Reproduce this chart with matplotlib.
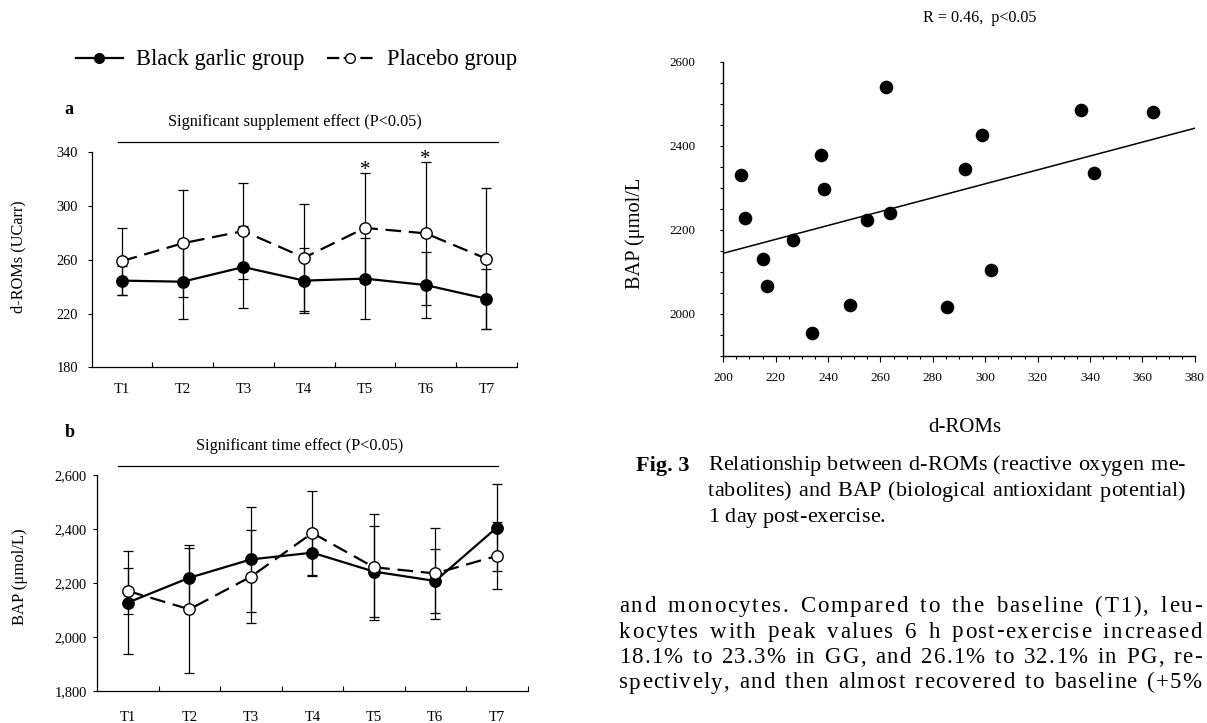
import numpy as np
import matplotlib
matplotlib.use('Agg')
import matplotlib.pyplot as plt
from matplotlib.lines import Line2D
from matplotlib.ticker import FixedLocator, FixedFormatter, NullFormatter, MultipleLocator, FuncFormatter
from matplotlib.font_manager import FontProperties, findfont
from matplotlib.ft2font import FT2Font
try:
    from matplotlib.ft2font import LoadFlags
    NOHINT = LoadFlags.NO_HINTING
except ImportError:
    from matplotlib.ft2font import LOAD_NO_HINTING as NOHINT

plt.rcParams['font.family'] = ['Liberation Serif', 'DejaVu Serif']

# ---------------- data ----------------
timepoints = ['T1', 'T2', 'T3', 'T4', 'T5', 'T6', 'T7']

droms_black = [244.5, 243.7, 254.6, 244.5, 246.0, 241.2, 231.0]
droms_black_sd = [11.0, 28.0, 30.7, 24.3, 30.3, 24.5, 22.5]
droms_placebo = [259.0, 272.3, 281.4, 261.6, 283.7, 279.7, 260.8]
droms_placebo_sd = [25.0, 40.0, 36.0, 40.0, 41.0, 53.0, 52.4]
droms_significant = ['T5', 'T6']

bap_black = [2128, 2220, 2288, 2313, 2243, 2208, 2406]
bap_black_sd = [190, 111, 196, 85, 170, 118, 160]
bap_placebo = [2171, 2103, 2224, 2386, 2259, 2236, 2301]
bap_placebo_sd = [86, 238, 172, 156, 196, 168, 124]

scatter_droms = [206.8, 208.3, 215.0, 216.5, 226.6, 234.0, 237.3, 238.3, 248.3, 255.0,
                 262.1, 263.5, 285.3, 292.2, 298.9, 302.1, 336.5, 341.5, 364.1]
scatter_bap = [2331, 2228, 2130, 2067, 2175, 1955.6, 2378, 2297.6, 2020.6, 2224.6,
               2539, 2239.7, 2017.5, 2345, 2426, 2105, 2484, 2335, 2481]

legend_labels = ['Black garlic group', 'Placebo group']
panel_a_title = 'Significant supplement effect (P<0.05)'
panel_b_title = 'Significant time effect (P<0.05)'
scatter_title = 'R = 0.46,  p<0.05'
caption_head = 'Fig. 3'
caption_lines = ['Relationship between d-ROMs (reactive oxygen me-',
                 'tabolites) and BAP (biological antioxidant potential)',
                 '1 day post-exercise.']
body_lines = ['and monocytes. Compared to the baseline (T1), leu-',
              'kocytes with peak values 6 h post-exercise increased',
              '18.1% to 23.3% in GG, and 26.1% to 32.1% in PG, re-',
              'spectively, and then almost recovered to baseline (+5%']

# ---------------- figure ----------------
W, H = 1207, 723
fig = plt.figure(figsize=(W / 100, H / 100), dpi=100)


def rect(x0, y0, x1, y1):
    return [x0 / W, 1 - y1 / H, (x1 - x0) / W, (y1 - y0) / H]


def fx(x):
    return x / W


def fy(y):
    return 1 - y / H


DASH = (0, (7, 3.5))


def line_panel(r, black, bsd, plac, psd, ylim, ystep, fmt, ylab_pad, xlab_pad):
    ax = fig.add_axes(r)
    x = np.arange(len(timepoints)) + 0.5
    ekw = dict(fmt='none', ecolor='black', elinewidth=0.9, capsize=3.8, capthick=0.9)
    ax.errorbar(x, black, yerr=bsd, zorder=2, **ekw)
    ax.errorbar(x, plac, yerr=psd, zorder=2, **ekw)
    ax.plot(x, black, color='black', lw=1.6, marker='o', ms=8.2, mfc='black', mec='black', zorder=3)
    ax.plot(x, plac, color='black', lw=1.6, ls=DASH, marker='o', ms=8.2, mfc='white', mec='black',
            mew=1.0, zorder=4)
    ax.set_xlim(0, len(timepoints))
    ax.set_ylim(*ylim)
    for s in ['top', 'right']:
        ax.spines[s].set_visible(False)
    for s in ['left', 'bottom']:
        ax.spines[s].set_linewidth(0.9)
    ax.xaxis.set_major_locator(FixedLocator(range(1, len(timepoints) + 1)))
    ax.xaxis.set_major_formatter(NullFormatter())
    ax.xaxis.set_minor_locator(FixedLocator(x))
    ax.xaxis.set_minor_formatter(FixedFormatter(timepoints))
    ax.tick_params(axis='x', which='major', direction='in', length=3.8, width=0.8)
    ax.tick_params(axis='x', which='minor', length=0, pad=xlab_pad, labelsize=10.5)
    ax.yaxis.set_major_locator(FixedLocator(np.arange(ylim[0], ylim[1] + 0.5 * ystep, ystep)))
    ax.yaxis.set_major_formatter(FuncFormatter(fmt))
    ax.tick_params(axis='y', direction='out', length=2.6, width=0.8, labelsize=10.4, pad=ylab_pad)
    return ax, x


# panel a
ax_a, xa = line_panel(rect(91.5, 152.3, 516.8, 367.3), droms_black, droms_black_sd,
                      droms_placebo, droms_placebo_sd, (180, 340), 40,
                      lambda v, p: f'{v:.0f}', 7.0, 11.0)
for t in droms_significant:
    i = timepoints.index(t)
    ax_a.annotate('*', xy=(xa[i], droms_placebo[i] + droms_placebo_sd[i]), xytext=(0, -1.5),
                  textcoords='offset points', ha='center', va='baseline', fontsize=15)

# panel b
ax_b, xb = line_panel(rect(97.2, 475.3, 527.5, 691.0), bap_black, bap_black_sd,
                      bap_placebo, bap_placebo_sd, (1800, 2600), 200,
                      lambda v, p: f'{v:,.0f}', 5.0, 14.5)

# titles / significance bars
for (tx, ty, txt, ly) in [(294.6, 121.7, panel_a_title, 141.7), (299.3, 445.7, panel_b_title, 466.0)]:
    fig.text(fx(tx), fy(ty), txt, ha='center', va='center', fontsize=11.7)
    fig.add_artist(Line2D([fx(117.9), fx(497.5)], [fy(ly), fy(ly)], color='black', lw=0.9))

fig.text(fx(69), fy(110), 'a', ha='center', va='center', fontsize=13, fontweight='bold')
fig.text(fx(69.6), fy(432.7), 'b', ha='center', va='center', fontsize=13, fontweight='bold')
fig.text(fx(17.9), fy(257), 'd-ROMs (UCarr)', rotation=90, ha='center', va='center', fontsize=11.7)
fig.text(fx(19.6), fy(576.7), 'BAP (μmol/L)', rotation=90, ha='center', va='center', fontsize=12)

# legend
h1 = Line2D([], [], color='black', lw=1.6, marker='o', ms=7, mfc='black', mec='black')
h2 = Line2D([], [], color='black', lw=1.6, ls=(0, (5.5, 2.0)), marker='o', ms=7, mfc='white', mec='black')
fig.legend([h1, h2], legend_labels, loc='center left', bbox_to_anchor=(fx(75.7), fy(60)),
           ncol=2, frameon=False, fontsize=16.3, handlelength=2.1, handletextpad=0.55,
           columnspacing=1.0, borderpad=0, borderaxespad=0, numpoints=1)

# scatter
axs = fig.add_axes(rect(723.3, 61.7, 1194.8, 356.0))
axs.scatter(scatter_droms, scatter_bap, s=96, color='black', linewidths=0, zorder=3)
axs.set_xlim(200, 380)
axs.set_ylim(1900, 2600)
slope, intercept = np.polyfit(scatter_droms, scatter_bap, 1)
xs = np.array(axs.get_xlim())
axs.plot(xs, intercept + slope * xs, color='black', lw=1.1, zorder=2)
for s in ['top', 'right']:
    axs.spines[s].set_visible(False)
for s in ['left', 'bottom']:
    axs.spines[s].set_linewidth(1.0)
axs.xaxis.set_major_locator(MultipleLocator(20))
axs.xaxis.set_minor_locator(MultipleLocator(5))
axs.yaxis.set_major_locator(FixedLocator([2000, 2200, 2400, 2600]))
axs.yaxis.set_minor_locator(MultipleLocator(50))
axs.tick_params(axis='x', which='major', direction='out', length=4.3, width=0.8, labelsize=9.6, pad=7)
axs.tick_params(axis='x', which='minor', direction='out', length=2.2, width=0.8)
axs.tick_params(axis='y', which='both', direction='out', length=2.0, width=0.8, labelsize=9.4, pad=18)
fig.text(fx(980), fy(18), scatter_title, ha='center', va='center', fontsize=11.6)
fig.text(fx(635.3), fy(233), 'BAP (μmol/L', rotation=90, ha='center', va='center', fontsize=14.7)
fig.text(fx(965), fy(428), 'd-ROMs', ha='center', va='center', fontsize=15)

# ---------------- justified text ----------------
_fonts = {}


def advances(line, size, weight):
    key = (size, weight)
    if key not in _fonts:
        f = FT2Font(findfont(FontProperties(family='Liberation Serif', weight=weight)))
        f.set_size(size, 100)
        _fonts[key] = f
    f = _fonts[key]
    out = []
    for c in line:
        g = f.load_char(ord(c), flags=NOHINT)
        out.append(g.linearHoriAdvance / 65536)
    return out


def draw_line(line, x0, x1, y, size, weight='normal', track=1.0, space=2.0, justify=True):
    adv = advances(line, size, weight)
    natural = sum(adv)
    n_gaps = len(line) - 1
    n_sp = line.count(' ')
    unit = ((x1 - x0) - natural) / (track * n_gaps + space * n_sp) if justify else 0.0
    x = x0
    for c, a in zip(line, adv):
        if c != ' ':
            fig.text(fx(x), fy(y), c, ha='left', va='baseline', fontsize=size, fontweight=weight,
                     family=['Liberation Serif'])
        x += a + unit * track + (unit * space if c == ' ' else 0.0)


cap_size = 16.0
cap_base = [470.5, 496.5, 522.5]
fig.text(fx(636.5), fy(cap_base[0]), caption_head, ha='left', va='baseline', fontsize=cap_size,
         fontweight='bold')
for i, ln in enumerate(caption_lines):
    draw_line(ln, 708.0, 1185.0, cap_base[i], cap_size, track=0.0, space=1.0,
              justify=(i < len(caption_lines) - 1))

body_size = 16.5
body_base = [612.0, 637.5, 663.0, 688.5]
for i, ln in enumerate(body_lines):
    draw_line(ln, 619.0, 1201.5, body_base[i], body_size, track=1.0, space=2.0, justify=True)

fig.savefig('out.png', dpi=100)
